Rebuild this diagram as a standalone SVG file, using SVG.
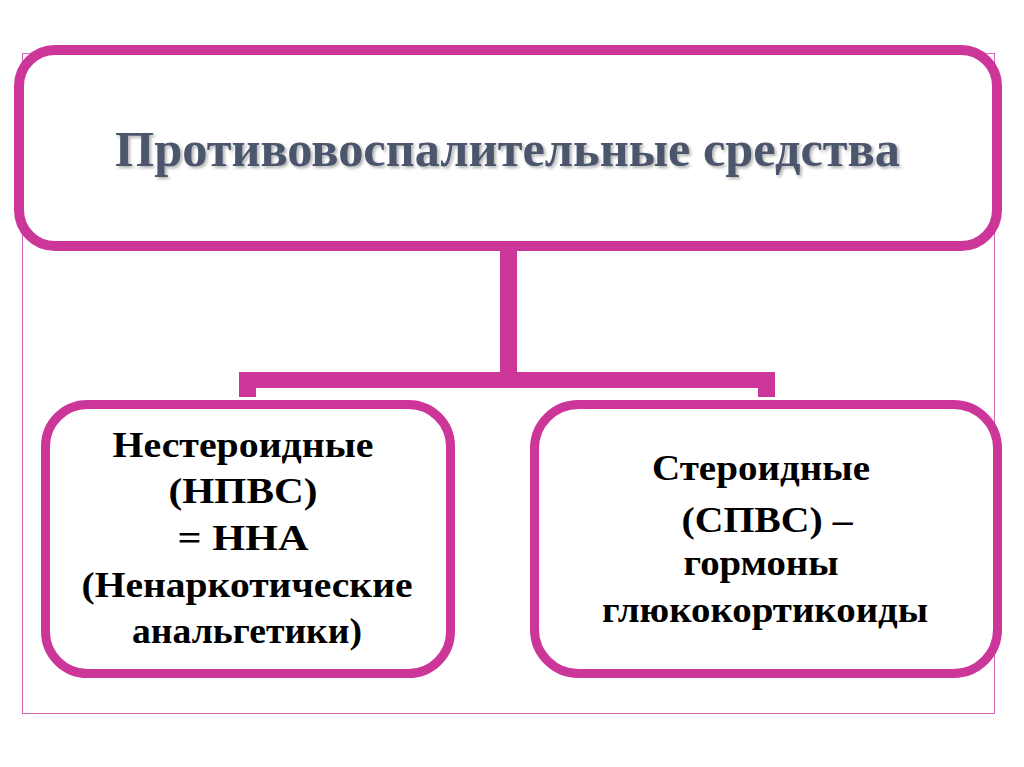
<svg xmlns="http://www.w3.org/2000/svg" width="1024" height="767" viewBox="0 0 1024 767">
  <defs>
    <filter id="shadow" x="-5%" y="-30%" width="110%" height="160%">
      <feDropShadow dx="2" dy="2" stdDeviation="1.5" flood-color="#000" flood-opacity="0.3"/>
    </filter>
  </defs>
  <style>
    .box { fill: #FFFFFF; stroke: #CB3698; }
    .frame { fill: none; stroke: #D66AB8; stroke-width: 1; }
    .conn { fill: #CB3698; }
    .title { font-family: "Liberation Serif", "DejaVu Serif", serif; font-weight: bold; font-size: 50px; fill: #4B566C; }
    .lbl { font-family: "Liberation Serif", "DejaVu Serif", serif; font-weight: bold; font-size: 35px; fill: #000000; text-anchor: middle; }
  </style>
  <rect width="1024" height="767" fill="#FFFFFF"/>
  <rect class="frame" x="22.5" y="53.5" width="972" height="660"/>

  <g id="connectors">
    <rect class="conn" x="500" y="248" width="17" height="126"/>
    <rect class="conn" x="239" y="372" width="536" height="16"/>
    <rect class="conn" x="239" y="386" width="17" height="11"/>
    <rect class="conn" x="758" y="386" width="17" height="11"/>
  </g>

  <g id="node-top">
    <rect class="box" x="19" y="50" width="978" height="196" rx="36" ry="36" stroke-width="10"/>
    <text class="title" x="115" y="166" textLength="785" lengthAdjust="spacingAndGlyphs" filter="url(#shadow)">Противовоспалительные средства</text>
  </g>

  <g id="node-left">
    <rect class="box" x="45.5" y="404.5" width="405" height="269" rx="42" ry="42" stroke-width="9"/>
    <text class="lbl" x="243" y="457" textLength="261" lengthAdjust="spacingAndGlyphs">Нестероидные</text>
    <text class="lbl" x="243" y="503" textLength="149" lengthAdjust="spacingAndGlyphs">(НПВС)</text>
    <text class="lbl" x="243" y="550" textLength="131" lengthAdjust="spacingAndGlyphs">= ННА</text>
    <text class="lbl" x="247" y="597" textLength="331" lengthAdjust="spacingAndGlyphs">(Ненаркотические</text>
    <text class="lbl" x="247" y="643" textLength="230" lengthAdjust="spacingAndGlyphs">анальгетики)</text>
  </g>

  <g id="node-right">
    <rect class="box" x="534.5" y="404.5" width="463" height="269" rx="44" ry="44" stroke-width="9"/>
    <text class="lbl" x="761" y="480" textLength="218" lengthAdjust="spacingAndGlyphs">Стероидные</text>
    <text class="lbl" x="767" y="532" textLength="171" lengthAdjust="spacingAndGlyphs">(СПВС) –</text>
    <text class="lbl" x="761" y="575" textLength="155" lengthAdjust="spacingAndGlyphs">гормоны</text>
    <text class="lbl" x="765" y="622" textLength="326" lengthAdjust="spacingAndGlyphs">глюкокортикоиды</text>
  </g>
</svg>
